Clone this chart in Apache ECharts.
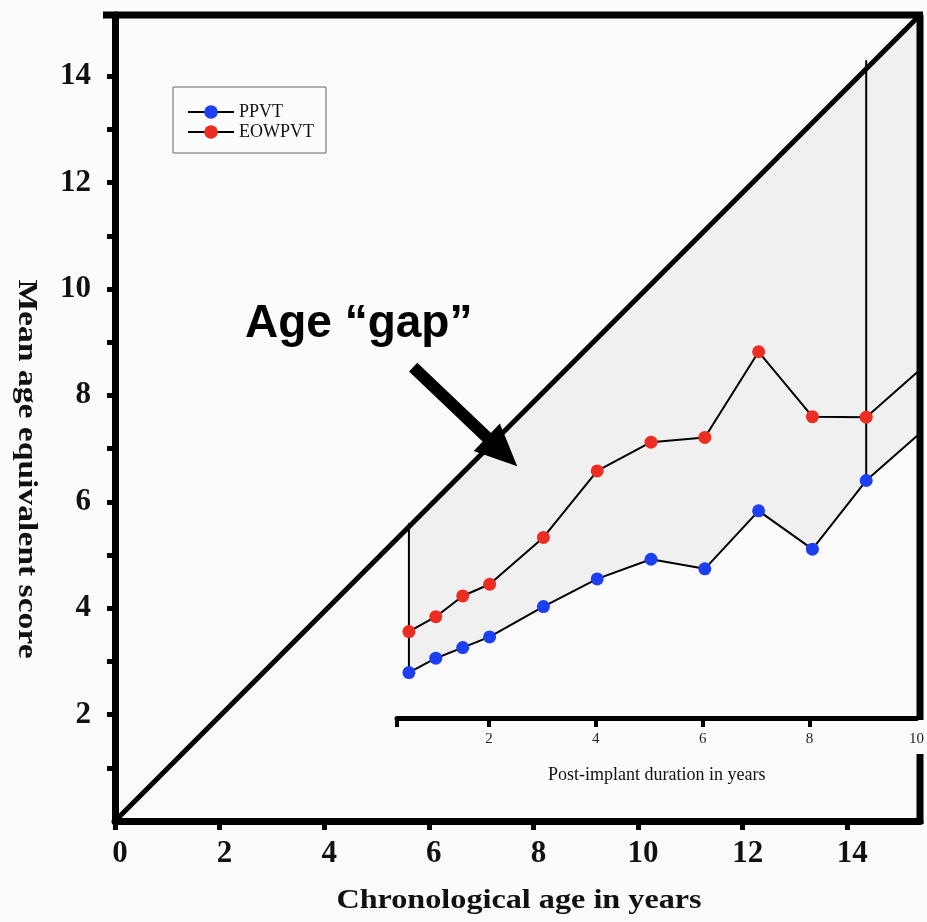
<!DOCTYPE html>
<html>
<head>
<meta charset="utf-8">
<script src="https://cdn.jsdelivr.net/npm/echarts@6/dist/echarts.min.js"></script>
<style>
  html, body { margin: 0; padding: 0; background: #fbfbfb; }
  #chart { width: 927px; height: 922px; }
</style>
</head>
<body>
<div id="chart"></div>
<script>
// Post-implant duration (years) of each assessment
const durations = [0.5, 1, 1.5, 2, 3, 4, 5, 6, 7, 8, 9, 10];
// Mean age-equivalent scores (years)
const ppvt   = [2.79, 3.06, 3.26, 3.46, 4.03, 4.55, 4.92, 4.74, 5.83, 5.11, 6.40, 7.29];
const eowpvt = [3.56, 3.84, 4.23, 4.45, 5.33, 6.58, 7.12, 7.21, 8.82, 7.60, 7.59, 8.48];
// Vertical "gap" markers: duration, bottom score, top (reaches the parity line)
const gapDurations = [0.5, 9];
const gapBottoms = [2.79, 6.40];
const gapTops = [5.60, 14.30];
// Parity line: age-equivalent score equals chronological age
const parity = [[0, 0], [15.39, 15.15]];
// Tick values
const chronoTicks = [0, 2, 4, 6, 8, 10, 12, 14];
const scoreTicks = [1, 2, 3, 4, 5, 6, 7, 8, 9, 10, 11, 12, 13, 14];
const scoreLabels = [2, 4, 6, 8, 10, 12, 14];
const durationLabels = [2, 4, 6, 8, 10];

const X_MAX = 15.39, Y_MAX = 15.15;
const DUR_MIN = -4.963, DUR_MAX = 10;
const INSET_MIN = 0.28;

const SERIF = 'Liberation Serif, Times New Roman, serif';
const BLUE = '#1c3ff2', RED = '#ee2d22';

const chart = echarts.init(document.getElementById('chart'), null, { renderer: 'canvas' });

const pts = (ys) => durations.map((d, i) => {
  const item = { value: [d, ys[i]] };
  if (i === durations.length - 1) item.symbol = 'none';
  return item;
});

const boldLabel = { fontFamily: SERIF, fontWeight: 'bold', fontSize: 31, color: '#111' };

const option = {
  backgroundColor: 'transparent',
  animation: false,
  grid: [
    { left: 115, top: 15, right: 7, bottom: 101 },
    { left: 397, right: 7, bottom: 204, height: 40 }
  ],
  legend: {
    data: ['PPVT', 'EOWPVT'],
    orient: 'vertical',
    left: 173, top: 87,
    itemWidth: 46, itemHeight: 17, itemGap: 2,
    padding: [16, 12, 12, 14],
    borderColor: '#666', borderWidth: 1,
    backgroundColor: '#fcfcfc',
    textStyle: { fontFamily: SERIF, fontSize: 18, color: '#111' }
  },
  xAxis: [
    {
      gridIndex: 0, type: 'value', min: 0, max: X_MAX, interval: 2,
      axisLine: { lineStyle: { color: '#000', width: 7 } },
      axisTick: { customValues: chronoTicks, length: 9, lineStyle: { color: '#000', width: 5 } },
      axisLabel: Object.assign({ customValues: chronoTicks, margin: 17, padding: [0, 0, 0, 10],
        formatter: v => (Number.isInteger(v) ? String(v) : '') }, boldLabel),
      splitLine: { show: false }
    },
    {
      gridIndex: 0, type: 'value', min: DUR_MIN, max: DUR_MAX, show: false
    },
    {
      gridIndex: 1, type: 'value', min: INSET_MIN, max: DUR_MAX,
      axisLine: { lineStyle: { color: '#000', width: 5 } },
      axisTick: { customValues: [INSET_MIN, 2, 4, 6, 8], length: 9, lineStyle: { color: '#000', width: 4 } },
      axisLabel: { customValues: durationLabels, margin: 14, fontFamily: SERIF, fontSize: 15, color: '#222' },
      splitLine: { show: false },
      name: 'Post-implant duration in years',
      nameLocation: 'middle', nameGap: 48,
      nameTextStyle: { fontFamily: SERIF, fontSize: 18, color: '#111' }
    }
  ],
  yAxis: [
    {
      gridIndex: 0, type: 'value', min: 0, max: Y_MAX, interval: 1,
      axisLine: { lineStyle: { color: '#000', width: 7 } },
      axisTick: { customValues: scoreTicks, length: 8, lineStyle: { color: '#000', width: 5 } },
      axisLabel: Object.assign({ customValues: scoreLabels, margin: 24,
        formatter: v => (v > 0 && v % 2 === 0 ? String(v) : '') }, boldLabel),
      splitLine: { show: false }
    },
    { gridIndex: 1, type: 'value', min: 0, max: 1, show: false }
  ],
  series: [
    {
      // shaded age gap between the parity line and the PPVT curve
      type: 'custom', xAxisIndex: 1, yAxisIndex: 0, z: 1, silent: true,
      data: [[durations[0], ppvt[0]]],
      renderItem: function (params, api) {
        const cs = params.coordSys;
        const left = cs.x, top = cs.y, right = cs.x + cs.width, bottom = cs.y + cs.height;
        const diagY = px => bottom - (px - left) * cs.height / cs.width;
        const p = ppvt.map((v, i) => api.coord([durations[i], v]));
        const poly = [[p[0][0], diagY(p[0][0])], [right, top]];
        for (let i = p.length - 1; i >= 0; i--) poly.push(p[i]);
        return { type: 'polygon', shape: { points: poly }, style: { fill: '#f0f0f0' } };
      }
    },
    {
      type: 'line', xAxisIndex: 0, yAxisIndex: 0, z: 3, silent: true,
      data: parity, symbol: 'none',
      lineStyle: { color: '#000', width: 5 }
    },
    ...gapDurations.map((d, i) => ({
      type: 'line', xAxisIndex: 1, yAxisIndex: 0, z: 4, silent: true,
      data: [[d, gapBottoms[i]], [d, gapTops[i]]], symbol: 'none',
      lineStyle: { color: '#000', width: 2 }
    })),
    {
      name: 'PPVT', type: 'line', xAxisIndex: 1, yAxisIndex: 0, z: 5,
      data: pts(ppvt), symbol: 'circle', symbolSize: 13,
      itemStyle: { color: BLUE },
      lineStyle: { color: '#000', width: 2 }
    },
    {
      name: 'EOWPVT', type: 'line', xAxisIndex: 1, yAxisIndex: 0, z: 5,
      data: pts(eowpvt), symbol: 'circle', symbolSize: 13,
      itemStyle: { color: RED },
      lineStyle: { color: '#000', width: 2 }
    }
  ]
};

chart.setOption(option);

// Annotation arrow (chronological age, score) and frame
const ARROW_TAIL = [5.70, 8.53];
const ARROW_TIP = [7.69, 6.67];

function drawOverlays() {
  const c0 = chart.convertToPixel({ xAxisIndex: 0, yAxisIndex: 0 }, [0, 0]);
  const c1 = chart.convertToPixel({ xAxisIndex: 0, yAxisIndex: 0 }, [X_MAX, Y_MAX]);
  const inset = chart.convertToPixel({ xAxisIndex: 2, yAxisIndex: 1 }, [DUR_MAX, 0]);
  const left = c0[0], bottom = c0[1], right = c1[0], top = c1[1];

  const t = chart.convertToPixel({ xAxisIndex: 0, yAxisIndex: 0 }, ARROW_TAIL);
  const h = chart.convertToPixel({ xAxisIndex: 0, yAxisIndex: 0 }, ARROW_TIP);
  const dx = h[0] - t[0], dy = h[1] - t[1];
  const len = Math.hypot(dx, dy);
  const ux = dx / len, uy = dy / len, nx = -uy, ny = ux;
  const headLen = 42, headHalf = 19;
  const bx = h[0] - ux * headLen, by = h[1] - uy * headLen;

  chart.setOption({
    graphic: [
      { type: 'line', z: 10, shape: { x1: left - 12, y1: top, x2: right + 3, y2: top },
        style: { stroke: '#000', lineWidth: 7 } },
      { type: 'line', z: 10, shape: { x1: right, y1: top, x2: right, y2: inset[1] + 2 },
        style: { stroke: '#000', lineWidth: 7 } },
      { type: 'line', z: 10, shape: { x1: right, y1: inset[1] + 36, x2: right, y2: bottom + 3 },
        style: { stroke: '#000', lineWidth: 7 } },
      { type: 'line', z: 10, shape: { x1: t[0], y1: t[1], x2: bx + ux * 2, y2: by + uy * 2 },
        style: { stroke: '#000', lineWidth: 12, lineCap: 'butt' } },
      { type: 'polygon', z: 10,
        shape: { points: [[h[0], h[1]], [bx + nx * headHalf, by + ny * headHalf], [bx - nx * headHalf, by - ny * headHalf]] },
        style: { fill: '#000' } },
      { type: 'text', z: 10, x: 245, y: 324,
        style: { text: 'Age \u201cgap\u201d', font: 'bold 46px "Liberation Sans", Arial, sans-serif',
          fill: '#000', align: 'left', verticalAlign: 'middle' } },
      { type: 'text', z: 10, x: 519, y: 901, scaleX: 1.15,
        style: { text: 'Chronological age in years', font: 'bold 28px "Liberation Serif", serif',
          fill: '#111', align: 'center', verticalAlign: 'middle' } },
      { type: 'text', z: 10, x: 26, y: 469, rotation: -Math.PI / 2, scaleX: 1.2,
        style: { text: 'Mean age equivalent score', font: 'bold 28px "Liberation Serif", serif',
          fill: '#111', align: 'center', verticalAlign: 'middle' } }
    ]
  });
}
drawOverlays();
</script>
</body>
</html>
